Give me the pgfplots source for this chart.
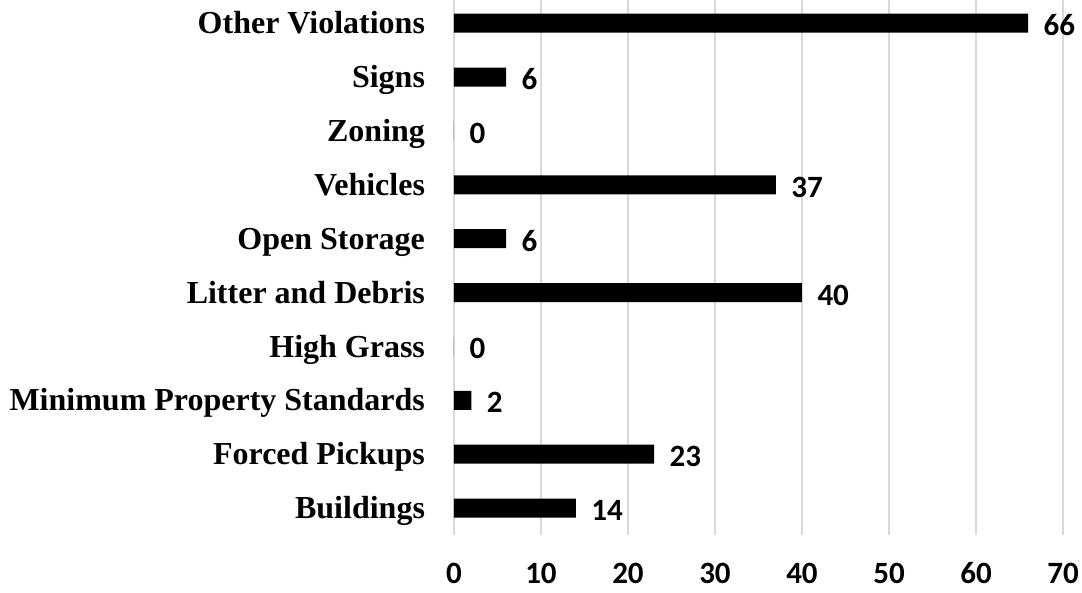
\documentclass[border=0pt]{standalone}
\usepackage{pgfplots}
\pgfplotsset{compat=1.18}
\usepackage{fontspec}
\setmainfont{Liberation Serif}
\newfontfamily\numfont{Carlito}
\definecolor{gridgray}{HTML}{D9D9D9}
\begin{document}
\begin{tikzpicture}
\useasboundingbox (-454pt,-58pt) rectangle (628pt,535pt);
\begin{axis}[
  at={(0,0)}, anchor=south west,
  scale only axis,
  width=609pt, height=535pt,
  xbar, bar width=19pt,
  xmin=0, xmax=70,
  ymin=-0.5, ymax=9.43,
  axis line style={draw=none},
  xmajorgrids=true,
  grid style={gridgray, line width=1.2pt},
  xtick={0,10,20,30,40,50,60,70},
  ytick={0,1,2,3,4,5,6,7,8,9},
  yticklabels={Buildings,Forced Pickups,Minimum Property Standards,High Grass,Litter and Debris,Open Storage,Vehicles,Zoning,Signs,Other Violations},
  major tick length=0pt,
  tick style={draw=none},
  yticklabel style={font=\fontsize{32}{36}\selectfont\bfseries, anchor=base east, xshift=-25.5pt, yshift=-10.6pt},
  xticklabel style={font=\fontsize{31}{36}\selectfont\numfont\bfseries, anchor=base, inner sep=0pt, text depth=0pt, yshift=-49pt},
  /pgf/number format/assume math mode=true,
  nodes near coords,
  every node near coord/.append style={font=\fontsize{31}{36}\selectfont\numfont\bfseries, anchor=base west, xshift=12pt, yshift=-12.5pt, black},
  clip=false,
]
\addplot[fill=black, draw=none] coordinates {
  (14,0) (23,1) (2,2) (0,3) (40,4) (6,5) (37,6) (0,7) (6,8) (66,9)
};
\end{axis}
\end{tikzpicture}
\end{document}
